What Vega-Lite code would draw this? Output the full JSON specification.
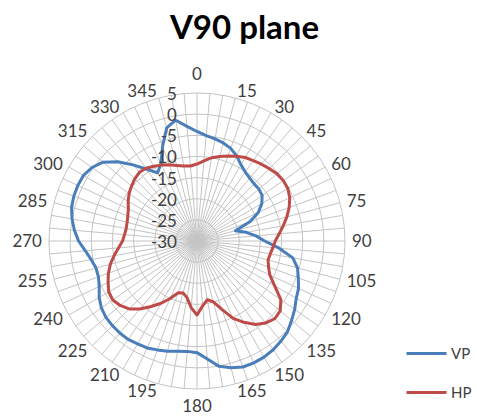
{
  "$schema": "https://vega.github.io/schema/vega-lite/v6.json",
  "width": 477,
  "height": 376,
  "autosize": {"type": "none"},
  "padding": {"top": 40, "left": 0, "right": 0, "bottom": 0},
  "background": "white",
  "config": {"view": {"stroke": null}, "font": "Lato"},
  "title": {"text": "V90 plane", "font": "Lato", "fontSize": 33, "fontWeight": "bold", "color": "#000000", "anchor": "middle", "frame": "group", "orient": "top", "offset": 0, "baseline": "alphabetic", "dx": 6, "dy": 32},
  "datasets": {
    "pattern": [
      {"angle": 0, "series": "VP", "value": -4.1}, {"angle": 5, "series": "VP", "value": -5.0}, {"angle": 10, "series": "VP", "value": -5.5}, {"angle": 15, "series": "VP", "value": -6.0},
      {"angle": 20, "series": "VP", "value": -6.7}, {"angle": 25, "series": "VP", "value": -7.8}, {"angle": 30, "series": "VP", "value": -9.2}, {"angle": 35, "series": "VP", "value": -10.1},
      {"angle": 40, "series": "VP", "value": -10.6}, {"angle": 45, "series": "VP", "value": -10.9}, {"angle": 50, "series": "VP", "value": -10.9}, {"angle": 55, "series": "VP", "value": -11.2},
      {"angle": 60, "series": "VP", "value": -12.3}, {"angle": 65, "series": "VP", "value": -14.0}, {"angle": 70, "series": "VP", "value": -16.7}, {"angle": 75, "series": "VP", "value": -20.6},
      {"angle": 80, "series": "VP", "value": -18.2}, {"angle": 85, "series": "VP", "value": -16.0}, {"angle": 90, "series": "VP", "value": -14.0}, {"angle": 95, "series": "VP", "value": -10.5},
      {"angle": 100, "series": "VP", "value": -7.0}, {"angle": 105, "series": "VP", "value": -5.4}, {"angle": 110, "series": "VP", "value": -4.5}, {"angle": 115, "series": "VP", "value": -3.5},
      {"angle": 120, "series": "VP", "value": -2.9}, {"angle": 125, "series": "VP", "value": -1.8}, {"angle": 130, "series": "VP", "value": -0.8}, {"angle": 135, "series": "VP", "value": 0.3},
      {"angle": 140, "series": "VP", "value": 0.9}, {"angle": 145, "series": "VP", "value": 1.4}, {"angle": 150, "series": "VP", "value": 1.7}, {"angle": 155, "series": "VP", "value": 1.8},
      {"angle": 160, "series": "VP", "value": 1.7}, {"angle": 165, "series": "VP", "value": 1.0}, {"angle": 170, "series": "VP", "value": 0.1}, {"angle": 175, "series": "VP", "value": -2.0},
      {"angle": 180, "series": "VP", "value": -3.6}, {"angle": 185, "series": "VP", "value": -3.8}, {"angle": 190, "series": "VP", "value": -3.5}, {"angle": 195, "series": "VP", "value": -3.0},
      {"angle": 200, "series": "VP", "value": -2.6}, {"angle": 205, "series": "VP", "value": -2.1}, {"angle": 210, "series": "VP", "value": -1.9}, {"angle": 215, "series": "VP", "value": -1.6},
      {"angle": 220, "series": "VP", "value": -1.6}, {"angle": 225, "series": "VP", "value": -1.7}, {"angle": 230, "series": "VP", "value": -1.9}, {"angle": 235, "series": "VP", "value": -2.4},
      {"angle": 240, "series": "VP", "value": -3.3}, {"angle": 245, "series": "VP", "value": -4.5}, {"angle": 250, "series": "VP", "value": -5.2}, {"angle": 255, "series": "VP", "value": -5.3},
      {"angle": 260, "series": "VP", "value": -4.6}, {"angle": 265, "series": "VP", "value": -3.5}, {"angle": 270, "series": "VP", "value": -2.0}, {"angle": 275, "series": "VP", "value": -0.9},
      {"angle": 280, "series": "VP", "value": 0.0}, {"angle": 285, "series": "VP", "value": 0.7}, {"angle": 290, "series": "VP", "value": 1.0}, {"angle": 295, "series": "VP", "value": 1.1},
      {"angle": 300, "series": "VP", "value": 1.0}, {"angle": 305, "series": "VP", "value": 0.3}, {"angle": 310, "series": "VP", "value": -1.0}, {"angle": 315, "series": "VP", "value": -3.5},
      {"angle": 320, "series": "VP", "value": -6.5}, {"angle": 325, "series": "VP", "value": -9.3}, {"angle": 330, "series": "VP", "value": -11.4}, {"angle": 335, "series": "VP", "value": -9.8},
      {"angle": 340, "series": "VP", "value": -6.2}, {"angle": 345, "series": "VP", "value": -2.3}, {"angle": 350, "series": "VP", "value": -1.0}, {"angle": 355, "series": "VP", "value": -2.8},
      {"angle": 0, "series": "HP", "value": -11.8}, {"angle": 5, "series": "HP", "value": -11.0}, {"angle": 10, "series": "HP", "value": -10.0}, {"angle": 15, "series": "HP", "value": -9.3},
      {"angle": 20, "series": "HP", "value": -8.6}, {"angle": 25, "series": "HP", "value": -7.9}, {"angle": 30, "series": "HP", "value": -7.2}, {"angle": 35, "series": "HP", "value": -6.8},
      {"angle": 40, "series": "HP", "value": -6.3}, {"angle": 45, "series": "HP", "value": -5.8}, {"angle": 50, "series": "HP", "value": -5.3}, {"angle": 55, "series": "HP", "value": -5.1},
      {"angle": 60, "series": "HP", "value": -5.2}, {"angle": 65, "series": "HP", "value": -5.8}, {"angle": 70, "series": "HP", "value": -6.8}, {"angle": 75, "series": "HP", "value": -8.0},
      {"angle": 80, "series": "HP", "value": -9.3}, {"angle": 85, "series": "HP", "value": -10.5}, {"angle": 90, "series": "HP", "value": -11.5}, {"angle": 95, "series": "HP", "value": -12.0},
      {"angle": 100, "series": "HP", "value": -12.4}, {"angle": 105, "series": "HP", "value": -12.6}, {"angle": 110, "series": "HP", "value": -12.0}, {"angle": 115, "series": "HP", "value": -11.0},
      {"angle": 120, "series": "HP", "value": -8.8}, {"angle": 125, "series": "HP", "value": -5.8}, {"angle": 130, "series": "HP", "value": -4.3}, {"angle": 135, "series": "HP", "value": -4.0},
      {"angle": 140, "series": "HP", "value": -4.7}, {"angle": 145, "series": "HP", "value": -5.9}, {"angle": 150, "series": "HP", "value": -7.8}, {"angle": 155, "series": "HP", "value": -9.8},
      {"angle": 160, "series": "HP", "value": -12.8}, {"angle": 165, "series": "HP", "value": -15.1}, {"angle": 170, "series": "HP", "value": -15.9}, {"angle": 175, "series": "HP", "value": -14.6},
      {"angle": 180, "series": "HP", "value": -12.5}, {"angle": 185, "series": "HP", "value": -14.2}, {"angle": 190, "series": "HP", "value": -16.4}, {"angle": 195, "series": "HP", "value": -17.3},
      {"angle": 200, "series": "HP", "value": -17.0}, {"angle": 205, "series": "HP", "value": -15.0}, {"angle": 210, "series": "HP", "value": -13.0}, {"angle": 215, "series": "HP", "value": -11.1},
      {"angle": 220, "series": "HP", "value": -9.0}, {"angle": 225, "series": "HP", "value": -7.3}, {"angle": 230, "series": "HP", "value": -6.3}, {"angle": 235, "series": "HP", "value": -5.7},
      {"angle": 240, "series": "HP", "value": -5.9}, {"angle": 245, "series": "HP", "value": -6.8}, {"angle": 250, "series": "HP", "value": -7.7}, {"angle": 255, "series": "HP", "value": -8.8},
      {"angle": 260, "series": "HP", "value": -10.1}, {"angle": 265, "series": "HP", "value": -11.4}, {"angle": 270, "series": "HP", "value": -12.4}, {"angle": 275, "series": "HP", "value": -12.8},
      {"angle": 280, "series": "HP", "value": -13.0}, {"angle": 285, "series": "HP", "value": -12.9}, {"angle": 290, "series": "HP", "value": -12.6}, {"angle": 295, "series": "HP", "value": -12.1},
      {"angle": 300, "series": "HP", "value": -11.2}, {"angle": 305, "series": "HP", "value": -10.4}, {"angle": 310, "series": "HP", "value": -9.8}, {"angle": 315, "series": "HP", "value": -9.2},
      {"angle": 320, "series": "HP", "value": -8.8}, {"angle": 325, "series": "HP", "value": -9.0}, {"angle": 330, "series": "HP", "value": -9.6}, {"angle": 335, "series": "HP", "value": -10.2},
      {"angle": 340, "series": "HP", "value": -10.8}, {"angle": 345, "series": "HP", "value": -11.5}, {"angle": 350, "series": "HP", "value": -12.0}, {"angle": 355, "series": "HP", "value": -12.2}
    ],
    "levels": [
      {"level": -30}, {"level": -25}, {"level": -20}, {"level": -15}, {"level": -10}, {"level": -5}, {"level": 0}, {"level": 5}
    ]
  },
  "layer": [
    {
      "data": {"name": "pattern"},
      "transform": [
        {"filter": "datum.series == 'VP'"},
        {"calculate": "0", "as": "cx"},
        {"calculate": "35 * sin(datum.angle * PI / 180)", "as": "sx"},
        {"calculate": "35 * cos(datum.angle * PI / 180)", "as": "sy"}
      ],
      "mark": {"type": "rule", "color": "#c4c4c4", "strokeWidth": 1},
      "encoding": {
        "x": {"field": "cx", "type": "quantitative", "scale": {"domain": [-46.58, 66.21], "nice": false, "zero": false}, "axis": null},
        "y": {"field": "cx", "type": "quantitative", "scale": {"domain": [-41.38, 47.53], "nice": false, "zero": false}, "axis": null},
        "x2": {"field": "sx"},
        "y2": {"field": "sy"}
      }
    },
    {
      "data": {"name": "levels"},
      "transform": [
        {"filter": "datum.level > -30"},
        {"calculate": "0", "as": "cx"},
        {"calculate": "datum.level + 30", "as": "rr"}
      ],
      "mark": {"type": "point", "shape": "circle", "filled": false, "color": "#c4c4c4", "strokeWidth": 1, "opacity": 1},
      "encoding": {
        "x": {"field": "cx", "type": "quantitative", "scale": {"domain": [-46.58, 66.21], "nice": false, "zero": false}, "axis": null},
        "y": {"field": "cx", "type": "quantitative", "scale": {"domain": [-41.38, 47.53], "nice": false, "zero": false}, "axis": null},
        "size": {"field": "rr", "type": "quantitative", "scale": {"type": "pow", "exponent": 2, "domain": [0, 35], "range": [0, 87616]}, "legend": null}
      }
    },
    {
      "data": {"name": "pattern"},
      "transform": [
        {"calculate": "datum.value + 30", "as": "rr"},
        {"calculate": "datum.rr * sin(datum.angle * PI / 180)", "as": "px"},
        {"calculate": "datum.rr * cos(datum.angle * PI / 180)", "as": "py"}
      ],
      "mark": {"type": "line", "interpolate": "linear-closed", "strokeWidth": 3, "strokeJoin": "round"},
      "encoding": {
        "x": {"field": "px", "type": "quantitative", "scale": {"domain": [-46.58, 66.21], "nice": false, "zero": false}, "axis": null},
        "y": {"field": "py", "type": "quantitative", "scale": {"domain": [-41.38, 47.53], "nice": false, "zero": false}, "axis": null},
        "order": {"field": "angle", "type": "quantitative"},
        "color": {
          "field": "series", "type": "nominal",
          "scale": {"domain": ["VP", "HP"], "range": ["#4a7ebb", "#be4b48"]},
          "legend": {"orient": "none", "legendX": 405, "legendY": 292, "title": null, "symbolType": "stroke", "symbolSize": 1600, "symbolStrokeWidth": 3, "labelFontSize": 15, "labelFont": "Lato", "labelColor": "#404040", "labelOffset": 3, "rowPadding": 9, "padding": 0}
        }
      }
    },
    {
      "data": {"name": "pattern"},
      "transform": [
        {"filter": "datum.series == 'VP' && datum.angle % 15 == 0 && datum.angle > 0 && datum.angle < 180"},
        {"calculate": "36.65 * sin(datum.angle * PI / 180)", "as": "lx"},
        {"calculate": "36.65 * cos(datum.angle * PI / 180)", "as": "ly"}
      ],
      "mark": {"type": "text", "align": "left", "baseline": "middle", "dy": 1, "fontSize": 17, "font": "Lato", "color": "#404040"},
      "encoding": {
        "x": {"field": "lx", "type": "quantitative", "scale": {"domain": [-46.58, 66.21], "nice": false, "zero": false}, "axis": null},
        "y": {"field": "ly", "type": "quantitative", "scale": {"domain": [-41.38, 47.53], "nice": false, "zero": false}, "axis": null},
        "text": {"field": "angle", "type": "nominal"}
      }
    },
    {
      "data": {"name": "pattern"},
      "transform": [
        {"filter": "datum.series == 'VP' && datum.angle % 15 == 0 && datum.angle > 180"},
        {"calculate": "36.65 * sin(datum.angle * PI / 180)", "as": "lx"},
        {"calculate": "36.65 * cos(datum.angle * PI / 180)", "as": "ly"}
      ],
      "mark": {"type": "text", "align": "right", "baseline": "middle", "dy": 1, "fontSize": 17, "font": "Lato", "color": "#404040"},
      "encoding": {
        "x": {"field": "lx", "type": "quantitative", "scale": {"domain": [-46.58, 66.21], "nice": false, "zero": false}, "axis": null},
        "y": {"field": "ly", "type": "quantitative", "scale": {"domain": [-41.38, 47.53], "nice": false, "zero": false}, "axis": null},
        "text": {"field": "angle", "type": "nominal"}
      }
    },
    {
      "data": {"name": "pattern"},
      "transform": [
        {"filter": "datum.series == 'VP' && (datum.angle == 0 || datum.angle == 180)"},
        {"calculate": "0", "as": "cx"},
        {"calculate": "datum.angle == 0 ? 39.3 : -39.2", "as": "ly"}
      ],
      "mark": {"type": "text", "align": "center", "baseline": "middle", "fontSize": 17, "font": "Lato", "color": "#404040"},
      "encoding": {
        "x": {"field": "cx", "type": "quantitative", "scale": {"domain": [-46.58, 66.21], "nice": false, "zero": false}, "axis": null},
        "y": {"field": "ly", "type": "quantitative", "scale": {"domain": [-41.38, 47.53], "nice": false, "zero": false}, "axis": null},
        "text": {"field": "angle", "type": "nominal"}
      }
    },
    {
      "data": {"name": "levels"},
      "transform": [
        {"calculate": "0", "as": "cx"},
        {"calculate": "datum.level + 30", "as": "rr"}
      ],
      "mark": {"type": "text", "align": "right", "baseline": "middle", "dx": -20, "dy": 2, "fontSize": 17, "font": "Lato", "color": "#404040"},
      "encoding": {
        "x": {"field": "cx", "type": "quantitative", "scale": {"domain": [-46.58, 66.21], "nice": false, "zero": false}, "axis": null},
        "y": {"field": "rr", "type": "quantitative", "scale": {"domain": [-41.38, 47.53], "nice": false, "zero": false}, "axis": null},
        "text": {"field": "level", "type": "nominal"}
      }
    }
  ]
}
